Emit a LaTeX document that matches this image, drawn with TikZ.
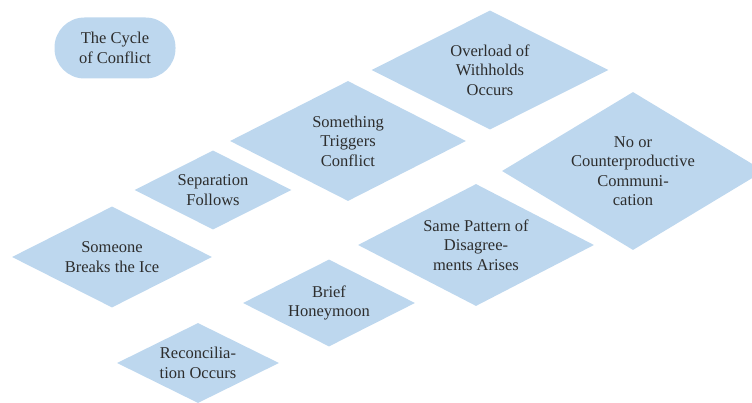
\documentclass[tikz,border=0pt]{standalone}
\usepackage{fontspec}
\setmainfont{Liberation Serif}
\usetikzlibrary{shapes,positioning}
\definecolor{cyclefill}{RGB}{189,215,238}
\definecolor{cycletext}{RGB}{45,45,45}

\begin{document}
\begin{tikzpicture}[x=1pt,y=-1pt,align=center,
					main node/.style={shape=diamond,fill=cyclefill,text=cycletext,inner sep=0pt,
					aspect=2,font=\fontsize{16.5}{19.5}\selectfont},
					title node/.style={rectangle,rounded corners=30pt,fill=cyclefill,text=cycletext,
					minimum width=121pt,minimum height=61pt,font=\fontsize{16.5}{19.5}\selectfont}]

					\useasboundingbox (0,0) rectangle (752,403);

					\node[title node] (0) at (115,48) {The Cycle\\of Conflict};
					\node[main node,minimum width=237pt,minimum height=119pt] (1) at (490,70) {Overload of\\Withholds\\Occurs};
					\node[main node,minimum width=236pt,minimum height=120pt] (2) at (348,141) {Something\\Triggers\\Conflict};
					\node[main node,minimum width=262pt,minimum height=158pt,aspect=1.66] (3) at (633,171) {No or\\Counterproductive\\Communi-\\cation};
					\node[main node,minimum width=157pt,minimum height=79pt] (4) at (213,190) {Separation\\Follows};
					\node[main node,minimum width=236pt,minimum height=122pt,aspect=1.93] (5) at (476,245) {Same Pattern of\\Disagree-\\ments Arises};
					\node[main node,minimum width=200pt,minimum height=101pt] (6) at (112,257) {Someone\\Breaks the Ice};
					\node[main node,minimum width=172pt,minimum height=87pt] (7) at (329,303) {Brief\\Honeymoon};
					\node[main node,minimum width=162pt,minimum height=80pt] (8) at (198,363) {Reconcilia-\\tion Occurs};

				\end{tikzpicture}
\end{document}
